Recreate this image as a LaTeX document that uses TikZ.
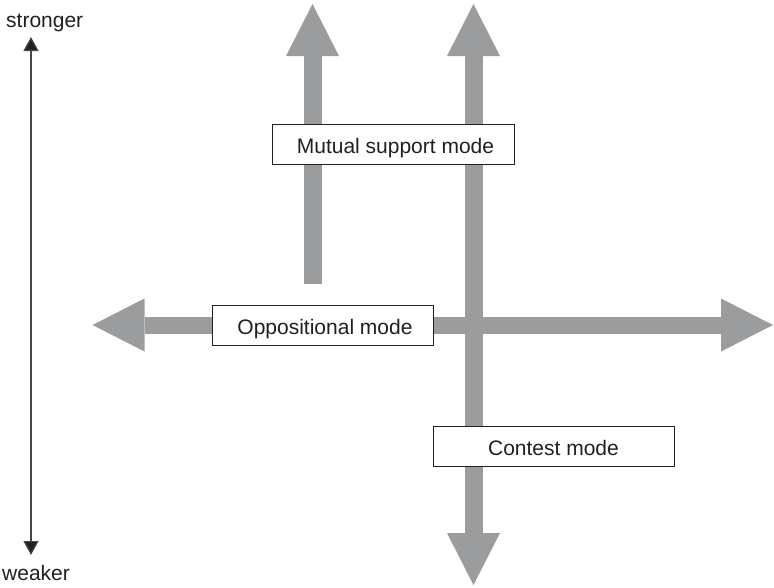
\documentclass[tikz,border=0pt]{standalone}
\usepackage{fontspec}
\setmainfont{Liberation Sans}
\usetikzlibrary{arrows.meta}
\definecolor{bandgrey}{RGB}{155,156,158}
\definecolor{ink}{RGB}{35,31,32}
\definecolor{axisgrey}{RGB}{70,70,70}
\begin{document}
\begin{tikzpicture}[x=1pt,y=-1pt,
  band/.style={draw=bandgrey,line width=18pt,
    -{Triangle[length=52pt,width=53pt,line width=0pt]}},
  bandtwo/.style={draw=bandgrey,line width=18pt,
    {Triangle[length=52pt,width=53pt,line width=0pt]}-{Triangle[length=52pt,width=53pt,line width=0pt]}},
  modebox/.style={draw=ink,line width=1pt,fill=white,text=ink,
    inner sep=0pt,text height=18pt,text depth=0pt,font=\fontsize{21}{25}\selectfont},
  axislabel/.style={text=ink,inner sep=0pt,font=\fontsize{21}{25}\selectfont},
  axisline/.style={draw=axisgrey,line width=1.2pt,
    {Triangle[length=14pt,width=15pt,fill=ink]}-{Triangle[length=14pt,width=15pt,fill=ink]}}
]
\useasboundingbox (0,0) rectangle (774,587);
% coordinates of band ends
\coordinate (supportfoot) at (312.5,284);
\coordinate (supporttip) at (312.5,4);
\coordinate (contestbottom) at (473.5,585);
\coordinate (contesttop) at (473.5,4);
\coordinate (oppleft) at (92.5,325);
\coordinate (oppright) at (773,325);
% grey bands
\draw[band] (supportfoot) -- (supporttip);
\draw[bandtwo,line width=17pt] (oppleft) -- (oppright);
\draw[bandtwo] (contestbottom) -- (contesttop);
% boxes
\node[modebox,minimum width=242pt,minimum height=40pt] (support) at (393,144) {\hspace{5pt}Mutual support mode};
\node[modebox,minimum width=221pt,minimum height=40pt] (opp) at (322.5,325) {\hspace{5pt}Oppositional mode};
\node[modebox,minimum width=241pt,minimum height=40pt] (contest) at (553.5,446) {Contest mode};
% left axis
\coordinate (axtop) at (31,37);
\coordinate (axbottom) at (31,555);
\draw[axisline] (axbottom) -- (axtop);
\node[axislabel,anchor=base west] (strong) at (6,27) {stronger};
\node[axislabel,anchor=base west] (weak) at (2,580) {weaker};
\end{tikzpicture}
\end{document}
